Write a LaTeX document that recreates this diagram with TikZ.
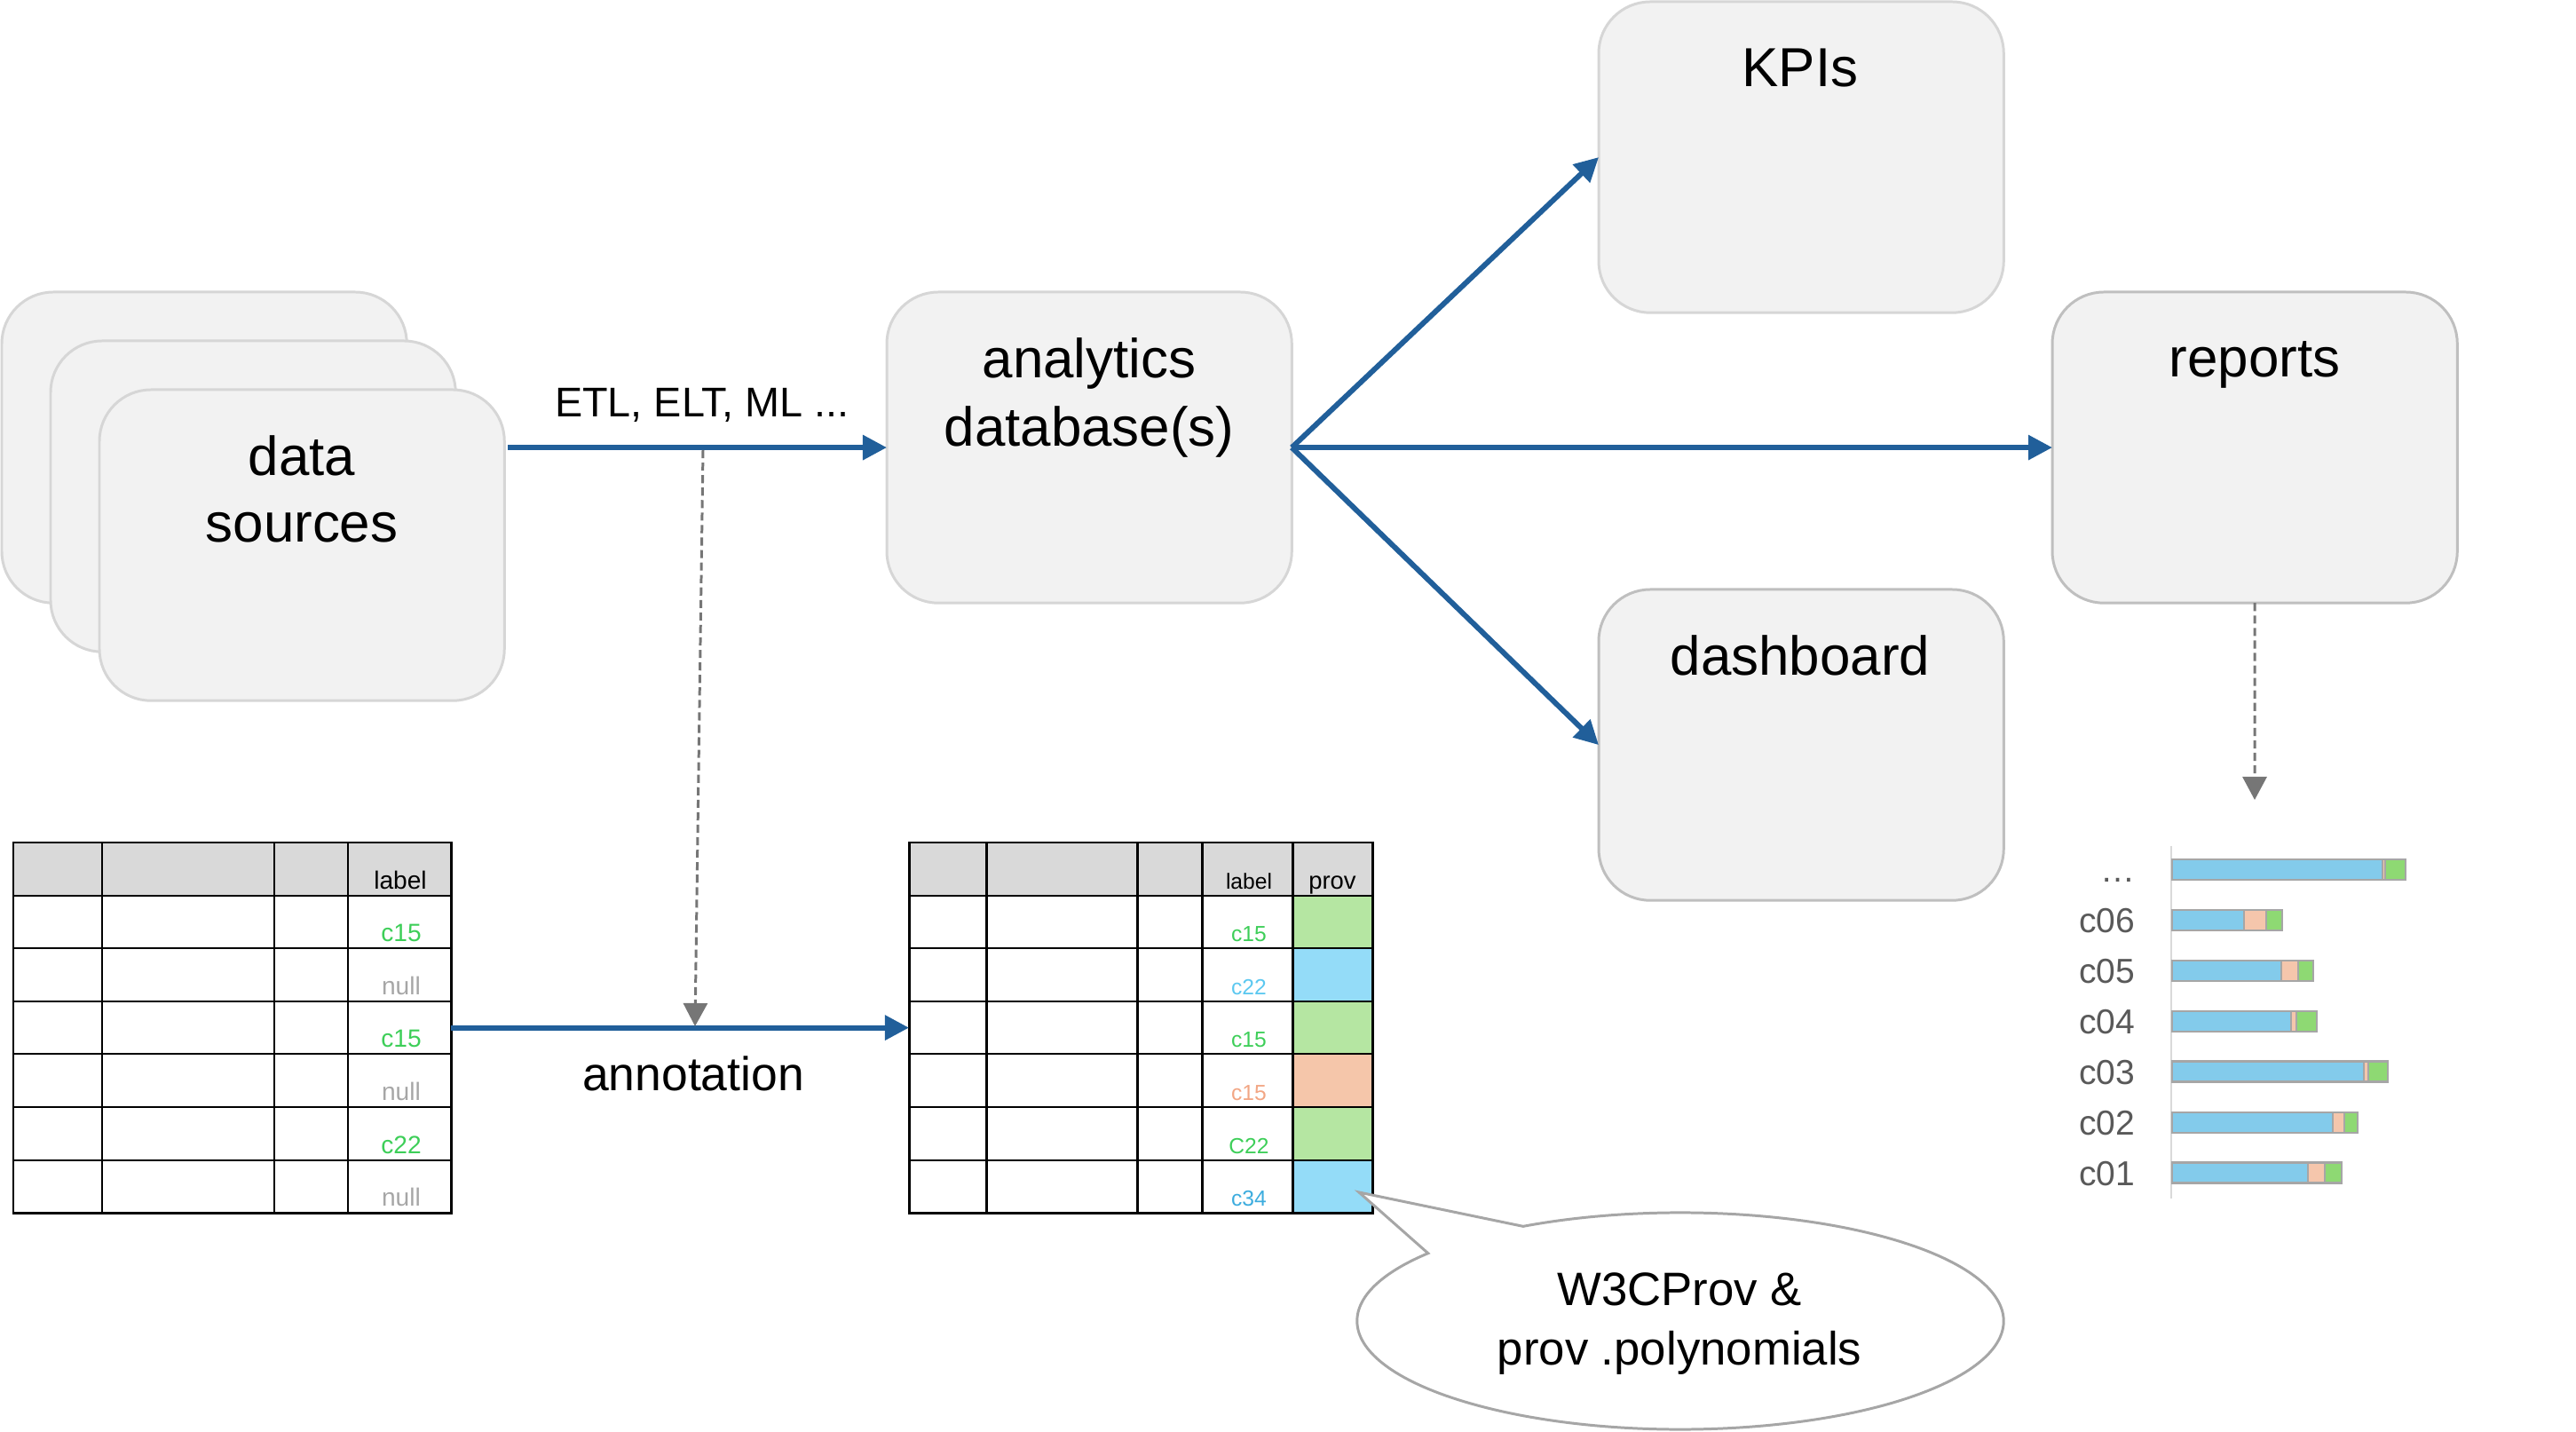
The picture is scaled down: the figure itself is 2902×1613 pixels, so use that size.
\documentclass[tikz,border=0pt]{standalone}
\usepackage{fontspec}
\setmainfont{Liberation Sans}
\usetikzlibrary{arrows.meta,calc}
\definecolor{flowblue}{HTML}{215F9A}
\definecolor{hintgray}{HTML}{767676}
\definecolor{boxfill}{HTML}{F2F2F2}
\definecolor{edgelight}{HTML}{D6D6D6}
\definecolor{edgedark}{HTML}{BFBFBF}
\definecolor{hdrfill}{HTML}{D9D9D9}
\definecolor{tgreen}{HTML}{3DCE58}
\definecolor{tnull}{HTML}{A6A6A6}
\definecolor{tlblue}{HTML}{5CC8F0}
\definecolor{tblue}{HTML}{3CACDE}
\definecolor{tsalmon}{HTML}{F2A684}
\definecolor{pgreen}{HTML}{B5E6A2}
\definecolor{pblue}{HTML}{94DCF8}
\definecolor{psalmon}{HTML}{F5C6AA}
\definecolor{barblue}{HTML}{83CBEB}
\definecolor{barpink}{HTML}{F5C6AC}
\definecolor{bargreen}{HTML}{8ED973}
\definecolor{bargray}{HTML}{A6A6A6}
\definecolor{axisgray}{HTML}{D9D9D9}
\definecolor{labgray}{HTML}{595959}
\definecolor{callgray}{HTML}{A6A6A6}
\begin{document}
\begin{tikzpicture}[x=0.01cm,y=-0.01cm,
  box/.style={draw=#1, fill=boxfill, line width=0.85pt, rounded corners=0.58cm,
    minimum width=4.56cm, minimum height=3.5cm, inner sep=0pt, outer sep=0pt, anchor=north west},
  big/.style={font=\fontsize{17.6}{21}\selectfont, anchor=base, inner sep=0pt},
  mid/.style={font=\fontsize{#1}{18}\selectfont, anchor=base, inner sep=0pt},
  flow/.style={draw=flowblue, line width=1.7pt, -{Triangle[length=0.27cm,width=0.27cm]}},
  hint/.style={draw=hintgray, line width=0.85pt, dash pattern=on 2.6pt off 1.4pt,
    -{Triangle[length=0.26cm,width=0.27cm]}},
  tbl/.style={draw=black, line width=0.85pt, minimum height=4.17cm, inner sep=0pt, outer sep=0pt, anchor=north west},
  tline/.style={draw=black, line width=0.85pt},
  cellA/.style={font=\fontsize{8}{9}\selectfont, anchor=base, inner sep=0pt},
  cellB/.style={font=\fontsize{7}{8}\selectfont, anchor=base, inner sep=0pt},
  barseg/.style={draw=bargray, line width=0.7pt},
  barlab/.style={font=\fontsize{11.1}{13}\selectfont, text=labgray, anchor=base east, inner sep=0pt},
  callout/.style={draw=callgray, fill=white, line width=0.85pt, line join=miter}
]
\useasboundingbox (0,0) rectangle (2902,1613);

% ---------- data sources stack ----------
\node[box=edgelight] (ds1) at (2,329) {};
\node[box=edgelight] (ds2) at (57,384) {};
\node[box=edgelight] (ds3) at (112,439) {};
\node[big] (dstxt1) at (340,536) {data};
\node[big] (dstxt2) at (340,611) {sources};

% ---------- analytics ----------
\node[box=edgelight] (ana) at (999,329) {};
\node[big] (anatxt1) at (1227,426) {analytics};
\node[big] (anatxt2) at (1227,503) {database(s)};

% ---------- outputs ----------
\node[box=edgelight] (kpi) at (1801,2) {};
\node[big] (kpitxt) at (2028,98) {KPIs};
\node[box=edgedark] (rep) at (2312,329) {};
\node[big] (reptxt) at (2540,425) {reports};
\node[box=edgedark] (dash) at (1801,664) {};
\node[big] (dashtxt) at (2028,761) {dashboard};

% ---------- flows ----------
\coordinate (etlx) at (572,0);
\coordinate (etlstart) at (etlx |- ana.west);
\draw[flow] (etlstart) -- (ana.west);
\node[mid=13.3] (etltxt) at (791,470) {ETL, ELT, ML ...};
\draw[flow] (ana.east) -- (kpi.west);
\draw[flow] (ana.east) -- (rep.west);
\draw[flow] (ana.east) -- (dash.west);

% ---------- left table ----------
\fill[hdrfill] (15,949) rectangle (508,1009);
\node[tbl, minimum width=4.93cm] (tblA) at (15,949) {};
\foreach \x in {115,309,392} \draw[tline] (\x,949) -- (\x,1366);
\foreach \y in {1009,1068,1128,1187,1247,1307} \draw[tline] (15,\y) -- (508,\y);
\node[cellA] (hdrA) at (451,1002) {label};
\foreach \t/\c/\yb [count=\i] in {c15/tgreen/1061, null/tnull/1121, c15/tgreen/1180,
    null/tnull/1240, c22/tgreen/1300, null/tnull/1359}
  \node[cellA, text=\c] (la\i) at (452,\yb) {\t};

% ---------- middle table ----------
\fill[hdrfill] (1024,949) rectangle (1546,1009);
\foreach \c/\ya/\yb in {pgreen/1009/1068, pblue/1068/1128, pgreen/1128/1187,
    psalmon/1187/1247, pgreen/1247/1307, pblue/1307/1366}
  \fill[\c] (1456,\ya) rectangle (1546,\yb);
\node[tbl, minimum width=5.22cm] (tblB) at (1024,949) {};
\foreach \x in {1111,1281,1354,1456} \draw[tline] (\x,949) -- (\x,1366);
\foreach \y in {1009,1068,1128,1187,1247,1307} \draw[tline] (1024,\y) -- (1546,\y);
\node[cellB] (hdrB1) at (1407,1002) {label};
\node[cellB, font=\fontsize{7.8}{9}\selectfont] (hdrB2) at (1501,1002) {prov};
\foreach \t/\c/\yb [count=\i] in {c15/tgreen/1061, c22/tlblue/1121, c15/tgreen/1180,
    c15/tsalmon/1240, C22/tgreen/1300, c34/tblue/1359}
  \node[cellB, text=\c] (lb\i) at (1407,\yb) {\t};

% ---------- annotation ----------
\draw[flow] (tblA.east) -- (tblB.west);
\node[mid=15.2] (anntxt) at (781,1229) {annotation};
\coordinate (hinttop) at (792,507);
\coordinate (hintbot) at (783,1156);
\draw[hint] (hinttop) -- (hintbot);

% ---------- bar chart ----------
\coordinate (charttop) at (2540,901);
\draw[hint] (rep.south) -- (charttop);
\draw[draw=axisgray, line width=0.8pt] (2446,953) -- (2446,1350);
\foreach \lab/\yc/\ba/\bb/\bc [count=\i] in {…/979.5/2684/2687/2710, c06/1036.5/2528/2553/2571,
    c05/1093.5/2570/2589/2606, c04/1150.5/2581/2587/2610, c03/1207/2663/2668/2690,
    c02/1264.5/2628/2641/2656, c01/1321/2600/2619/2638} {
  \draw[barseg, fill=barblue] (2447,\yc-11.5) rectangle (\ba,\yc+11.5);
  \draw[barseg, fill=barpink] (\ba,\yc-11.5) rectangle (\bb,\yc+11.5);
  \draw[barseg, fill=bargreen] (\bb,\yc-11.5) rectangle (\bc,\yc+11.5);
  \node[barlab] (bl\i) at (2406,\yc+14.5) {\lab};
}

% ---------- callout ----------
\coordinate (cc) at (1893,1488);
\coordinate (ctip) at (1531,1343);
\coordinate (cA) at ($(cc)+(119.1:3.64cm and 1.22cm)$);
\coordinate (cB) at ($(cc)+(141.3:3.64cm and 1.22cm)$);
\draw[callout] (cA) -- (ctip) -- (cB) arc[start angle=141.3, end angle=479.1, x radius=3.64cm, y radius=1.22cm] -- cycle;
\node[mid=15] (calltxt1) at (1892,1471) {W3CProv \&};
\node[mid=15] (calltxt2) at (1892,1537) {prov .polynomials};
\end{tikzpicture}
\end{document}
